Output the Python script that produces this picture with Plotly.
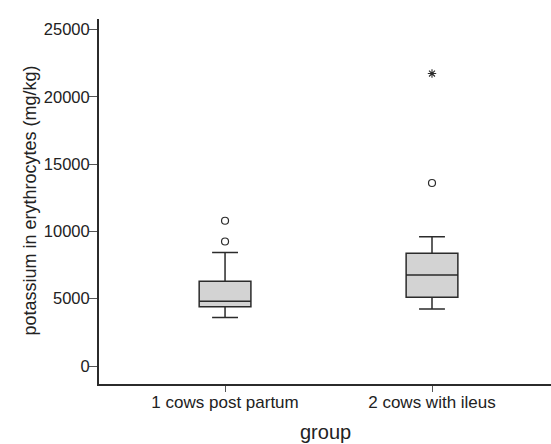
import plotly.graph_objects as go

categories = ["1 cows post partum", "2 cows with ileus"]
q1 = [4410, 5110]
median = [4810, 6770]
q3 = [6300, 8385]
lower_whisker = [3595, 4240]
upper_whisker = [8430, 9600]
outlier_cat = ["1 cows post partum", "1 cows post partum", "2 cows with ileus"]
outlier_val = [10790, 9250, 13595]
extreme_cat = ["2 cows with ileus"]
extreme_val = [21730]
y_ticks = [0, 5000, 10000, 15000, 20000, 25000]

dark = "#2b2b2b"
font = "Liberation Sans, Arial, sans-serif"

fig = go.Figure()
fig.add_trace(go.Box(
    x=categories, q1=q1, median=median, q3=q3,
    lowerfence=lower_whisker, upperfence=upper_whisker,
    boxpoints=False, width=0.25, whiskerwidth=0.5,
    fillcolor="#d3d3d3", line=dict(color=dark, width=1.5),
    showlegend=False, hoverinfo="skip",
))
fig.add_trace(go.Scatter(
    x=outlier_cat, y=outlier_val, mode="markers",
    marker=dict(symbol="circle-open", size=7, color=dark, line=dict(width=1.2, color=dark)),
    showlegend=False,
))
fig.add_trace(go.Scatter(
    x=extreme_cat, y=extreme_val, mode="markers",
    marker=dict(symbol="asterisk-open", size=7, color=dark, line=dict(width=1.1, color=dark)),
    showlegend=False,
))

fig.update_layout(
    width=551, height=444,
    margin=dict(l=99, r=0, t=19, b=60),
    paper_bgcolor="white", plot_bgcolor="white",
    font=dict(family=font, color="#222222"),
    xaxis=dict(
        type="category", range=[-0.609, 1.575], automargin=False,
        showline=True, linecolor=dark, linewidth=2,
        ticks="outside", ticklen=6, tickcolor="#555555", tickwidth=1,
        ticklabelstandoff=-4,
        tickfont=dict(size=17, family=font, color="#222222"),
        showgrid=False, zeroline=False,
    ),
    yaxis=dict(
        range=[-1337, 25780], automargin=False,
        tickvals=y_ticks, ticktext=[str(v) for v in y_ticks],
        showline=True, linecolor=dark, linewidth=2,
        ticks="outside", ticklen=8, tickcolor="#555555", tickwidth=1,
        ticklabelstandoff=-4,
        tickfont=dict(size=16.5, family=font, color="#222222"),
        showgrid=False, zeroline=False,
    ),
    annotations=[
        dict(text="group", xref="paper", yref="paper", x=(325 - 99) / 452, y=(384 - 432) / 365,
             xanchor="center", yanchor="middle", showarrow=False,
             font=dict(size=20, family=font, color="#222222")),
        dict(text="potassium in erythrocytes (mg/kg)", xref="paper", yref="paper",
             x=(29.5 - 99) / 452, y=(384 - 201) / 365, textangle=-90,
             xanchor="center", yanchor="middle", showarrow=False,
             font=dict(size=18, family=font, color="#222222")),
    ],
)

fig.write_html("out.html", config={"displayModeBar": False},
               post_script="document.body.style.margin='0';document.body.style.overflow='hidden';")
